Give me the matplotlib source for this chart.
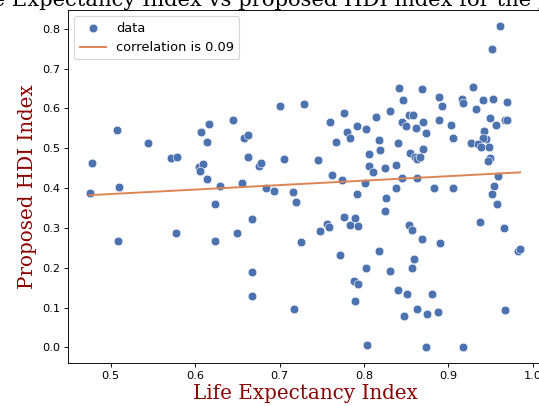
import numpy as np
import matplotlib
matplotlib.use("Agg")
import matplotlib.pyplot as plt

# life expectancy index per country
life_expectancy_index = [
    0.478, 0.475, 0.507, 0.510, 0.509, 0.544, 0.572, 0.578, 0.577, 0.607,
    0.616, 0.614, 0.605, 0.609, 0.606, 0.614, 0.629, 0.624, 0.624, 0.645,
    0.656, 0.650, 0.658, 0.663, 0.663, 0.668, 0.667, 0.668, 0.676, 0.678,
    0.684, 0.693, 0.701, 0.705, 0.716, 0.719, 0.717, 0.725, 0.729,
    0.961, 0.952, 0.841, 0.869, 0.929, 0.846, 0.889, 0.893, 0.916, 0.918,
    0.941, 0.953, 0.970, 0.933, 0.831, 0.776, 0.814, 0.853, 0.858, 0.760,
    0.845, 0.850, 0.870, 0.862, 0.889, 0.903, 0.949, 0.957, 0.967, 0.970,
    0.792, 0.802, 0.780, 0.783, 0.767, 0.942, 0.945, 0.941, 0.927, 0.935,
    0.939, 0.948, 0.818, 0.874, 0.906, 0.840, 0.819, 0.806, 0.870, 0.855,
    0.860, 0.863, 0.866, 0.949, 0.947, 0.746, 0.806, 0.811, 0.825, 0.838,
    0.762, 0.774, 0.801, 0.845, 0.863, 0.959, 0.954, 0.952, 0.838, 0.792,
    0.826, 0.883, 0.905,
    0.958, 0.825, 0.777, 0.790, 0.784, 0.793, 0.756, 0.759, 0.748, 0.853,
    0.857, 0.937, 0.966, 0.869, 0.890, 0.772, 0.818, 0.983, 0.985, 0.803,
    0.831, 0.859, 0.857, 0.788, 0.793, 0.840, 0.851, 0.881, 0.789, 0.863,
    0.848, 0.875, 0.888, 0.967, 0.804, 0.873, 0.918,
]

# proposed HDI index, same order
proposed_hdi_index = [
    0.464, 0.387, 0.546, 0.402, 0.267, 0.514, 0.476, 0.479, 0.286, 0.541,
    0.560, 0.516, 0.454, 0.461, 0.444, 0.423, 0.405, 0.360, 0.267, 0.570,
    0.412, 0.286, 0.527, 0.533, 0.477, 0.322, 0.190, 0.130, 0.456, 0.463,
    0.400, 0.393, 0.606, 0.474, 0.391, 0.365, 0.096, 0.265, 0.611,
    0.807, 0.749, 0.651, 0.649, 0.653, 0.620, 0.629, 0.607, 0.623, 0.613,
    0.622, 0.623, 0.615, 0.598, 0.594, 0.588, 0.579, 0.584, 0.584, 0.565,
    0.567, 0.556, 0.567, 0.550, 0.570, 0.559, 0.575, 0.559, 0.570, 0.572,
    0.555, 0.549, 0.542, 0.527, 0.517, 0.544, 0.524, 0.525, 0.514, 0.510,
    0.504, 0.502, 0.522, 0.538, 0.526, 0.512, 0.496, 0.486, 0.499, 0.488,
    0.478, 0.472, 0.479, 0.476, 0.469, 0.471, 0.456, 0.440, 0.451, 0.457,
    0.433, 0.420, 0.413, 0.425, 0.426, 0.431, 0.406, 0.386, 0.400, 0.385,
    0.375, 0.399, 0.399,
    0.361, 0.342, 0.327, 0.326, 0.308, 0.306, 0.309, 0.303, 0.291, 0.308,
    0.296, 0.315, 0.301, 0.271, 0.262, 0.231, 0.241, 0.242, 0.246, 0.199,
    0.193, 0.221, 0.199, 0.167, 0.158, 0.145, 0.135, 0.135, 0.117, 0.097,
    0.079, 0.084, 0.090, 0.094, 0.006, 0.001, 0.001,
]

correlation = 0.09
year = 2015

x = np.array(life_expectancy_index)
y = np.array(proposed_hdi_index)

# least squares fit for the trend line
slope, intercept = np.polyfit(x, y, 1)

label_font = {'family': 'serif', 'color': 'darkred', 'size': 17.5}

DPI = 82
W, H = 539, 406
left, bottom, top = 68, 43, 396        # axes edges in pixels
axes_w = 474
px_per_unit = 844                      # pixels per 1.0 on the x axis
x0 = 0.4494

fig = plt.figure(figsize=(W / DPI, H / DPI), dpi=DPI)
ax = fig.add_axes([left / W, bottom / H, axes_w / W, (top - bottom) / H])

ax.scatter(x, y, s=58, color='#4C72B0', edgecolors='white', linewidths=0.5, label='data')
xs = np.array([x.min(), x.max()])
ax.plot(xs, intercept + slope * xs, color='#DD8452', lw=1.7,
        label='correlation is {:.2f}'.format(correlation))

ax.set_xlim(x0, x0 + axes_w / px_per_unit)

# the plot runs past the right edge of the canvas: stop the frame there
x_edge = x0 + (W + 2 - left) / px_per_unit
ax.spines['right'].set_visible(False)
ax.spines['top'].set_bounds(x0, x_edge)
ax.spines['bottom'].set_bounds(x0, x_edge)

ax.set_title('Life Expectancy Index vs proposed HDI index for the year {}'.format(year),
             family='serif', fontsize=18.5, pad=3)
ax.set_xlabel('Life Expectancy Index', fontdict=label_font, labelpad=3)
ax.set_ylabel('Proposed HDI Index', fontdict=label_font)
ax.legend(loc='upper left', fontsize=11.4)

fig.savefig('out.png', dpi=DPI)
